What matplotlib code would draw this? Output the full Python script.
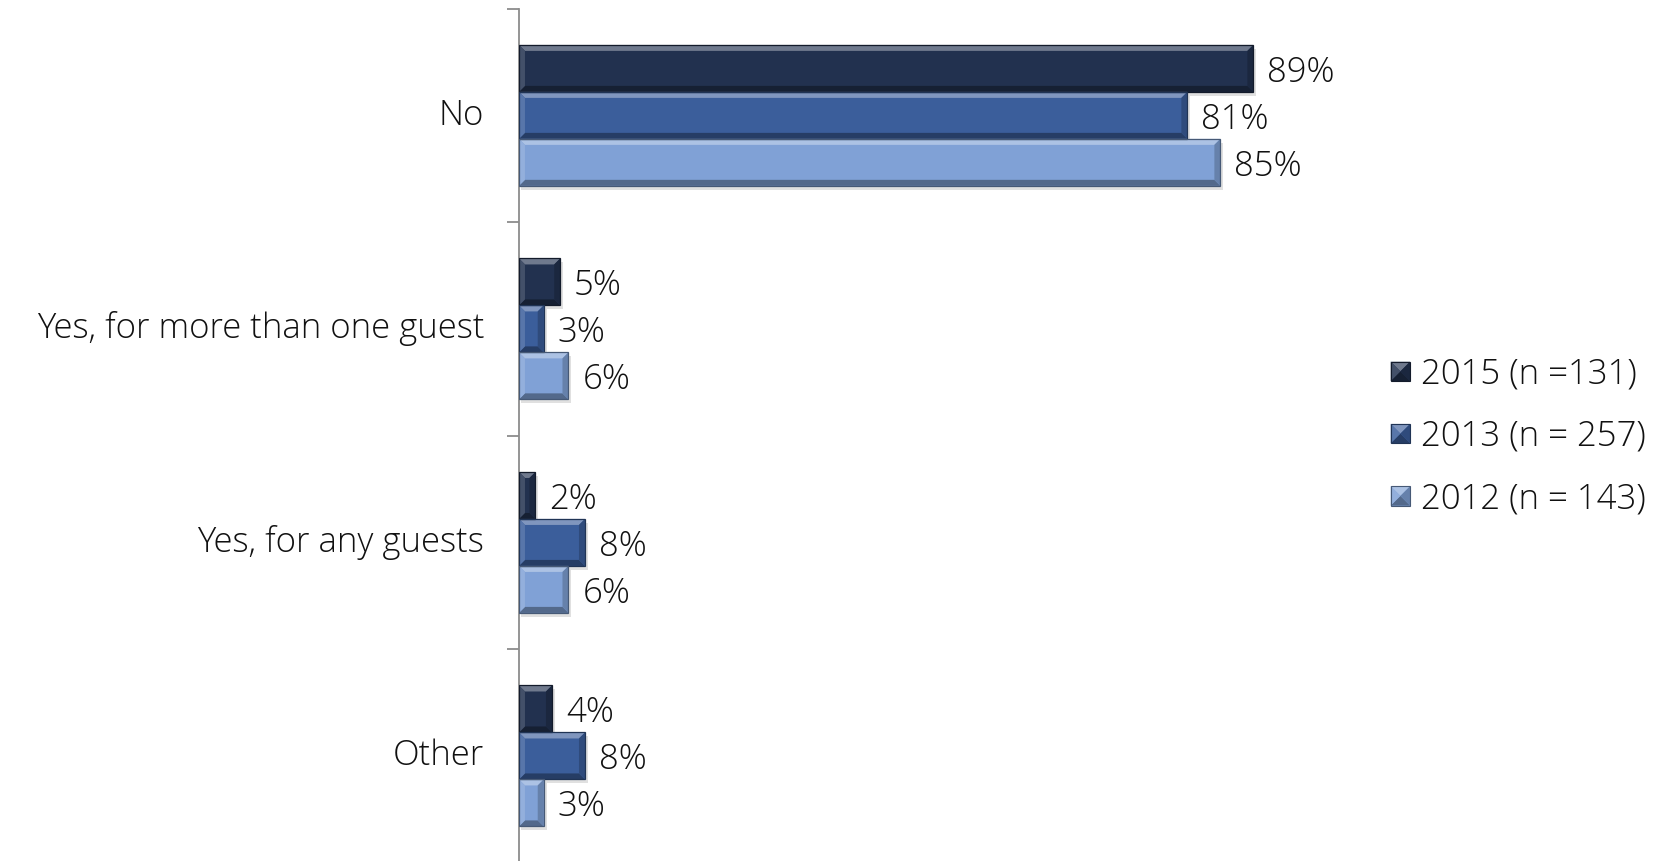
import matplotlib
matplotlib.use("Agg")
import matplotlib.pyplot as plt
from matplotlib.patches import Polygon, Rectangle
from matplotlib.legend_handler import HandlerBase
from matplotlib.colors import to_rgb
import numpy as np

plt.rcParams['font.family'] = ['Open Sans', 'DejaVu Sans']
plt.rcParams['font.weight'] = 'light'

categories = ["No", "Yes, for more than one guest", "Yes, for any guests", "Other"]
series_names = ["2015 (n =131)", "2013 (n = 257)", "2012 (n = 143)"]
values_2015 = [89, 5, 2, 4]
values_2013 = [81, 3, 8, 8]
values_2012 = [85, 6, 6, 3]
series_values = [values_2015, values_2013, values_2012]
series_colors = ["#22314f", "#3b5e9b", "#80a1d6"]

FS = 25


def mix(c, other, t):
    a = np.array(to_rgb(c))
    b = np.array(to_rgb(other))
    return tuple(a * (1 - t) + b * t)


def bevel_faces(x0, y0, x1, y1, b, color):
    """Return (polygon points, colour) pairs for a bevelled rectangle in pixel space."""
    b = min(b, (x1 - x0) / 2.0, (y1 - y0) / 2.0)
    ix0, iy0, ix1, iy1 = x0 + b, y0 + b, x1 - b, y1 - b
    # y increases upward in display space
    return [
        ([(x0, y0), (x1, y0), (x1, y1), (x0, y1)], color),
        ([(x0, y1), (x1, y1), (ix1, iy1), (ix0, iy1)], mix(color, "white", 0.35)),
        ([(x0, y0), (x1, y0), (ix1, iy0), (ix0, iy0)], mix(color, "black", 0.35)),
        ([(x0, y0), (x0, y1), (ix0, iy1), (ix0, iy0)], mix(color, "white", 0.15)),
        ([(x1, y0), (x1, y1), (ix1, iy1), (ix1, iy0)], mix(color, "black", 0.2)),
    ]


fig = plt.figure(figsize=(16.57, 8.61), dpi=100)
ax = fig.add_axes([0.3132, -0.002, 0.498, 0.992])

n_cat = len(categories)
bar_h = 0.22
ax.set_xlim(0, 100)
ax.set_ylim(n_cat - 0.5, -0.5)

ax.spines[['top', 'right', 'bottom']].set_visible(False)
ax.spines['left'].set_color('#8c8c8c')
ax.spines['left'].set_linewidth(1.3)
ax.set_xticks([])
ax.set_yticks(np.arange(-0.5, n_cat, 1.0))
ax.set_yticklabels([])
ax.tick_params(axis='y', which='major', length=9, width=1.3, color='#8c8c8c', direction='out')
ax.set_yticks(np.arange(n_cat), minor=True)
ax.set_yticklabels(categories, minor=True, fontsize=FS, color='#111111')
ax.tick_params(axis='y', which='minor', length=0, pad=25)
for lbl in ax.get_yticklabels(minor=True):
    lbl.set_verticalalignment('center')

to_px = ax.transData
to_data = ax.transData.inverted()

for j, (vals, col) in enumerate(zip(series_values, series_colors)):
    for i, v in enumerate(vals):
        yc = i + (j - 1) * bar_h
        ya, yb = yc - bar_h / 2, yc + bar_h / 2
        (px0, py_top), (px1, py_bot) = to_px.transform([(0, ya), (v, yb)])
        y_lo, y_hi = min(py_top, py_bot), max(py_top, py_bot)
        # soft drop shadow
        sh = to_data.transform([(px0 + 2, y_lo - 4), (px1 + 3, y_hi - 4)])
        ax.add_patch(Rectangle((sh[0][0], sh[0][1]), sh[1][0] - sh[0][0], sh[1][1] - sh[0][1],
                               facecolor='#000000', alpha=0.12, edgecolor='none', zorder=1))
        for pts, c in bevel_faces(px0, y_lo, px1, y_hi, 6, col):
            ax.add_patch(Polygon(to_data.transform(pts), closed=True, facecolor=c,
                                 edgecolor='none', zorder=2))
        ax.add_patch(Polygon(to_data.transform([(px0, y_lo), (px1, y_lo), (px1, y_hi), (px0, y_hi)]),
                             closed=True, facecolor='none',
                             edgecolor=mix(col, "black", 0.45), linewidth=0.9, zorder=3))
        ax.annotate(f"{v}%", xy=(v, yc), xytext=(10, 0), textcoords='offset points',
                    va='center_baseline', ha='left', fontsize=FS, color='#111111')


class BevelHandler(HandlerBase):
    def create_artists(self, legend, orig_handle, xdescent, ydescent, width, height,
                       fontsize, trans):
        s = 14
        x0 = -xdescent + (width - s) / 2
        y0 = -ydescent + (height - s) / 2
        arts = []
        col = orig_handle.get_facecolor()
        for pts, c in bevel_faces(x0, y0, x0 + s, y0 + s, s / 2.0, col):
            arts.append(Polygon(pts, closed=True, facecolor=c, edgecolor='none', transform=trans))
        arts.append(Polygon([(x0, y0), (x0 + s, y0), (x0 + s, y0 + s), (x0, y0 + s)], closed=True,
                            facecolor='none', edgecolor=mix(col, "black", 0.45), linewidth=0.8,
                            transform=trans))
        return arts


handles = [Rectangle((0, 0), 1, 1, facecolor=c) for c in series_colors]
fig.legend(handles, series_names, loc='center left', bbox_to_anchor=(0.82, 0.493),
           frameon=False, fontsize=FS, handler_map={Rectangle: BevelHandler()},
           handlelength=0.6, handletextpad=0.3, labelspacing=0.8, labelcolor='#111111')

fig.savefig("out.png", dpi=100)
